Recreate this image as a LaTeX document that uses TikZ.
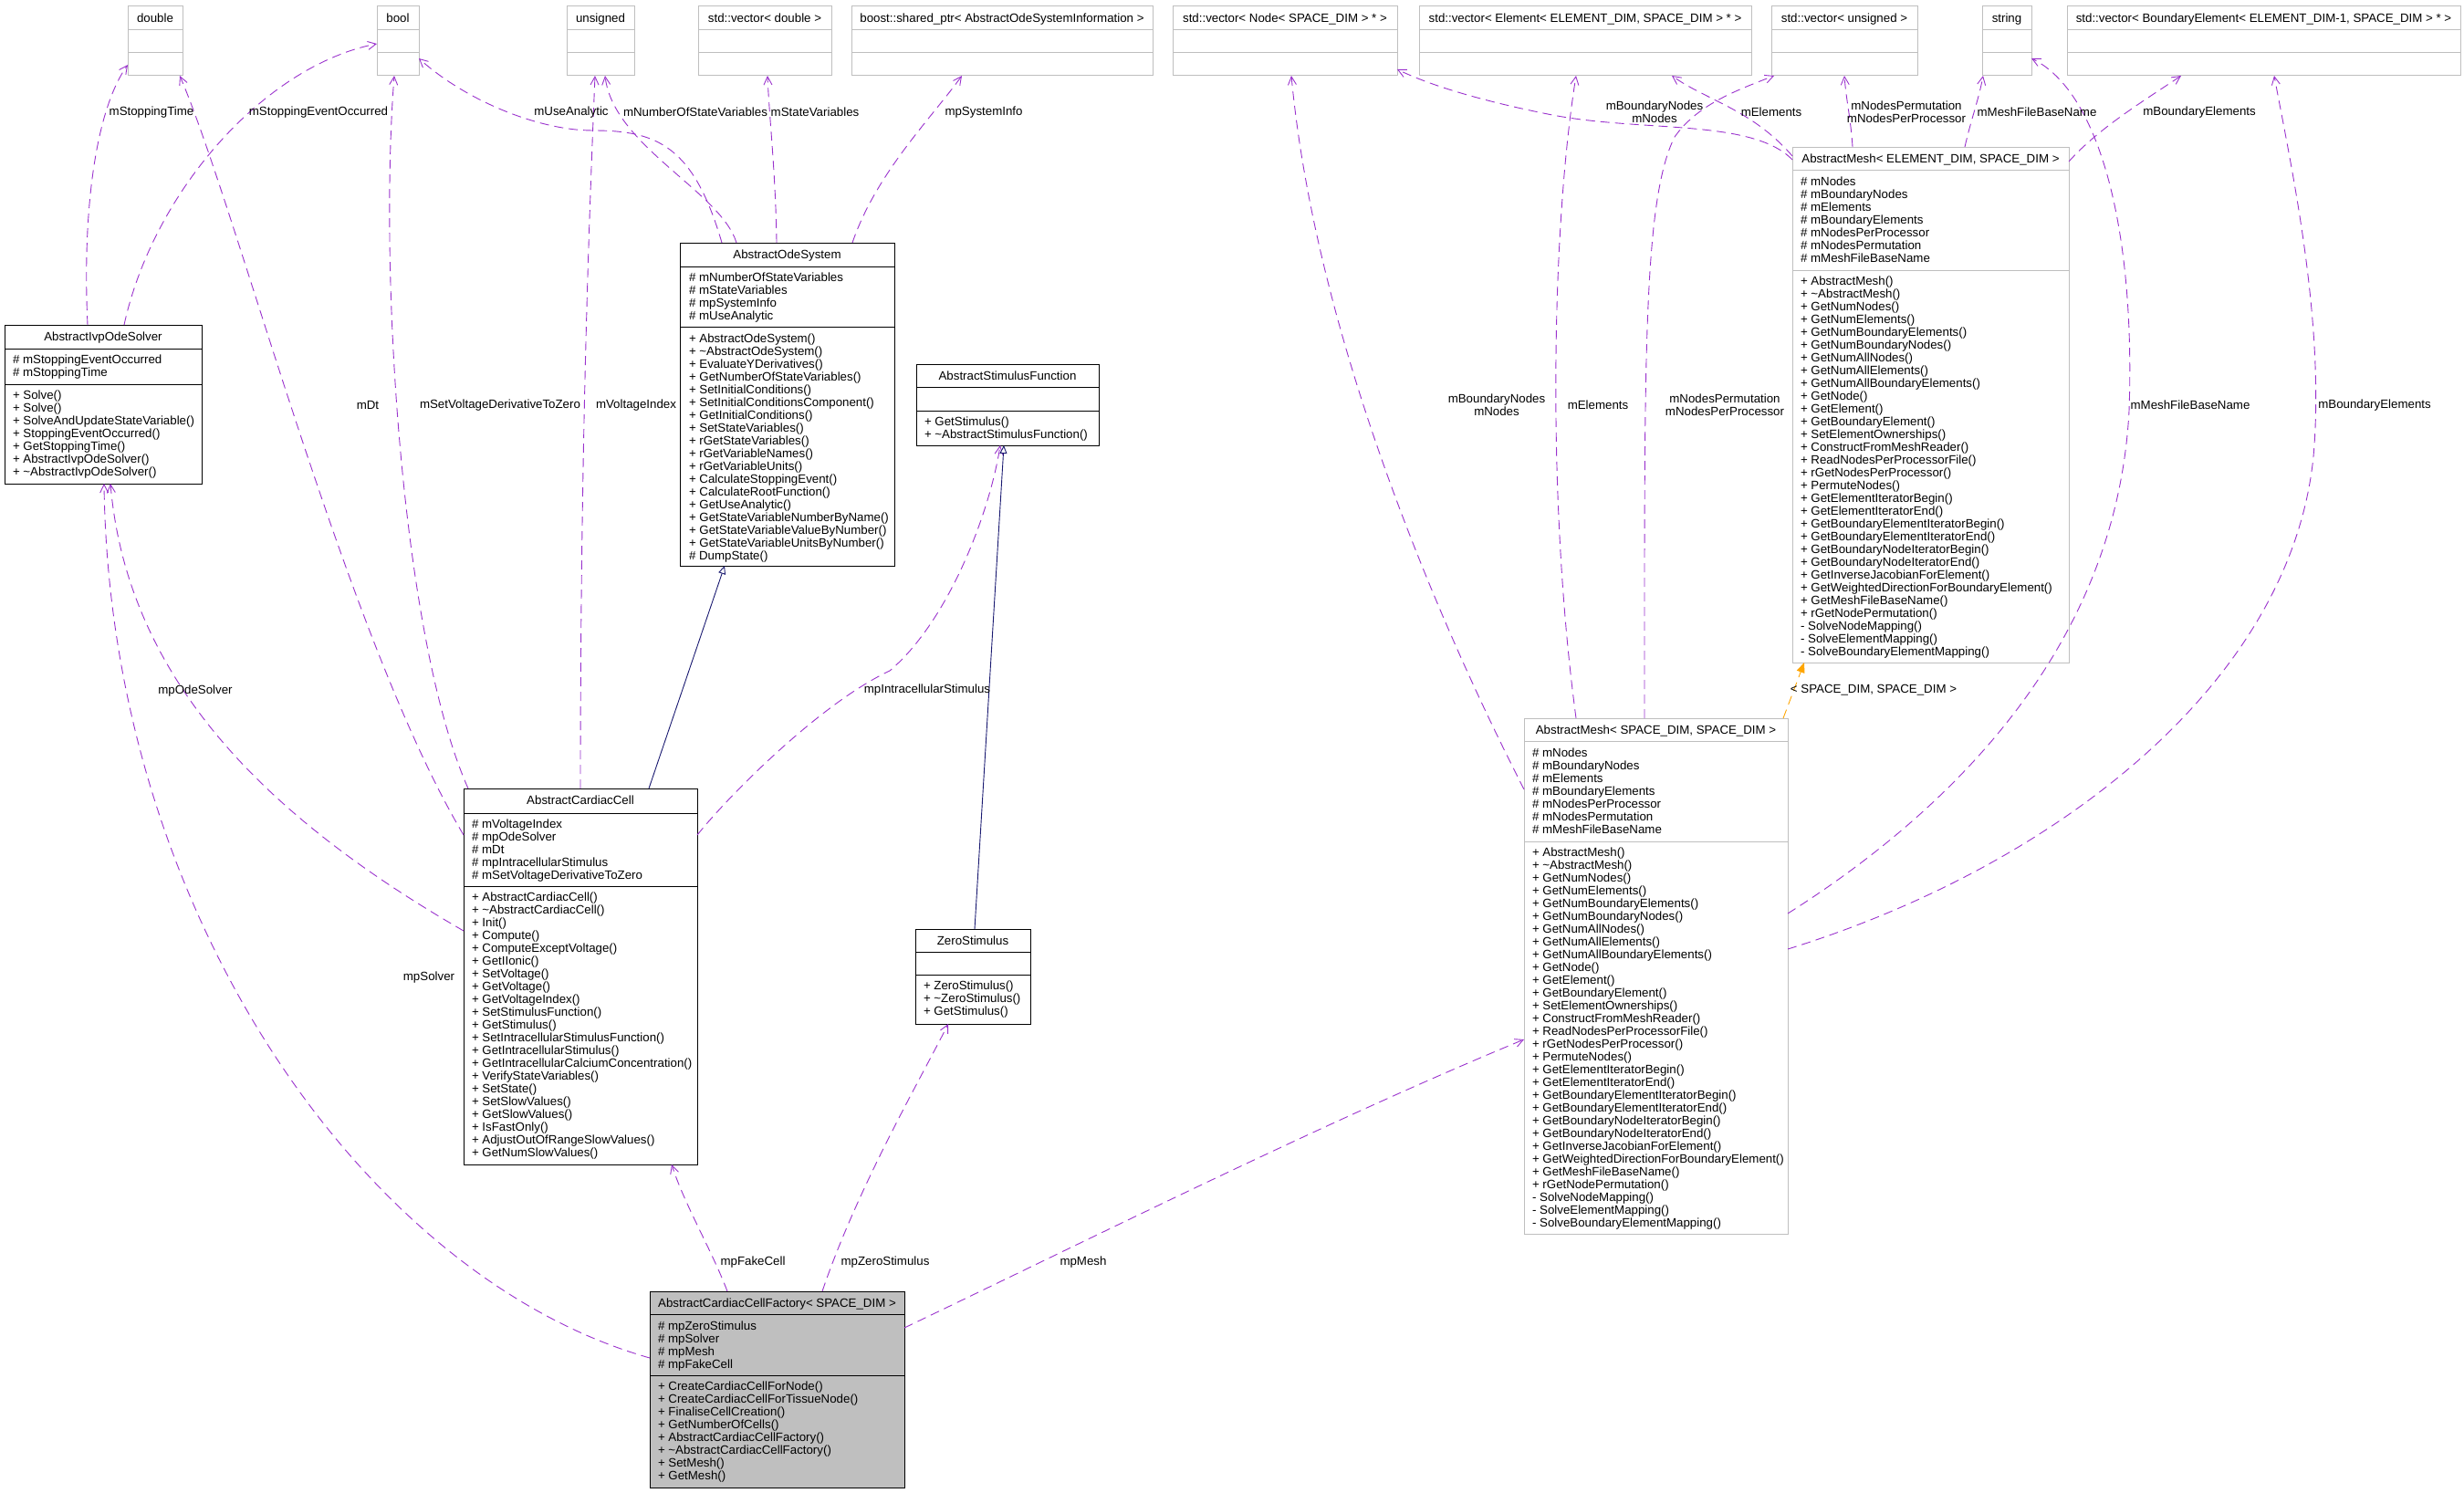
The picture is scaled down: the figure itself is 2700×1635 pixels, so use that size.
\documentclass[tikz,border=0pt]{standalone}
\usepackage{fontspec}
\setmainfont{Liberation Sans}
\usetikzlibrary{arrows.meta,calc}
\definecolor{depc}{HTML}{9A32CD}
\definecolor{grey75}{HTML}{BFBFBF}
\definecolor{inhc}{HTML}{191970}
\definecolor{tmplc}{HTML}{FFA500}
\tikzset{
  txt/.style={font=\fontsize{13.3}{14}\selectfont, inner sep=0pt, outer sep=0pt},
  lbl/.style={txt, align=center},
  blk/.style={draw=black, line width=1pt, outer sep=0pt, inner sep=0pt},
  gry/.style={draw=grey75, line width=1pt, outer sep=0pt, inner sep=0pt},
  fac/.style={draw=black, fill=grey75, line width=1pt, outer sep=0pt, inner sep=0pt},
  dep/.style={draw=depc, line width=0.9pt, dash pattern=on 10pt off 6pt, -{Straight Barb[length=9pt,width=9pt]}},
  inh/.style={draw=inhc, line width=0.9pt, -{Triangle[open,length=9pt,width=8pt,fill=white]}},
  tmpl/.style={draw=tmplc, line width=0.9pt, dash pattern=on 10pt off 6pt, -{Triangle[length=11pt,width=9pt]}}
}
% #1 name #2 style #3 x #4 y #5 w #6 h #7 header h #8 header+attrs h #9 title
\newcommand{\umlbox}[9]{%
  \node[#2, minimum width=#5pt, minimum height=#6pt, anchor=north west] (#1) at (#3,#4) {};
  \draw[#2] ([yshift=-#7pt]#1.north west) -- ([yshift=-#7pt]#1.north east);
  \draw[#2] ([yshift=-#8pt]#1.north west) -- ([yshift=-#8pt]#1.north east);
  \node[txt, anchor=base] (#1-title) at ([yshift=-17.5pt]#1.north) {#9};
}
% #1 name prefix #2 x #3 first baseline y #4 list
\newcommand{\members}[4]{%
  \foreach \mem [count=\i] in {#4} {\node[txt, anchor=base west] (#1-\i) at (#2,{#3+14*(\i-1)}) {\mem};}
}
\begin{document}
\begin{tikzpicture}[x=1pt,y=-1pt]
\useasboundingbox (0,0) rectangle (2700,1635);

% ---- top row (value types) ----
\umlbox{double}{gry}{140}{7}{60}{76}{25.5}{51}{double}
\umlbox{bool}{gry}{413}{7}{46}{76}{25.5}{51}{bool}
\umlbox{unsigned}{gry}{621}{7}{74}{76}{25.5}{51}{unsigned}
\umlbox{vecdouble}{gry}{765}{7}{146}{76}{25.5}{51}{std::vector< double >}
\umlbox{sysinfo}{gry}{933}{7}{330}{76}{25.5}{51}{boost::shared\_ptr< AbstractOdeSystemInformation >}
\umlbox{vecnode}{gry}{1285}{7}{246}{76}{25.5}{51}{std::vector< Node< SPACE\_DIM > * >}
\umlbox{vecelem}{gry}{1555}{7}{364}{76}{25.5}{51}{std::vector< Element< ELEMENT\_DIM, SPACE\_DIM > * >}
\umlbox{vecuns}{gry}{1941}{7}{160}{76}{25.5}{51}{std::vector< unsigned >}
\umlbox{string}{gry}{2172}{7}{54}{76}{25.5}{51}{string}
\umlbox{vecbnd}{gry}{2265}{7}{431}{76}{25.5}{51}{std::vector< BoundaryElement< ELEMENT\_DIM-1, SPACE\_DIM > * >}

% ---- AbstractIvpOdeSolver ----
\umlbox{solver}{blk}{5}{356}{216}{174}{26}{65}{AbstractIvpOdeSolver}
\members{solver-a}{14}{398.5}{\# mStoppingEventOccurred, \# mStoppingTime}
\members{solver-m}{14}{437}{+ Solve(), + Solve(), + SolveAndUpdateStateVariable(), + StoppingEventOccurred(), + GetStoppingTime(), + AbstractIvpOdeSolver(), + \textasciitilde AbstractIvpOdeSolver()}

% ---- AbstractOdeSystem ----
\umlbox{odesys}{blk}{745}{266}{235}{354}{26}{92}{AbstractOdeSystem}
\members{odesys-a}{755}{308}{\# mNumberOfStateVariables, \# mStateVariables, \# mpSystemInfo, \# mUseAnalytic}
\members{odesys-m}{755}{375}{+ AbstractOdeSystem(), + \textasciitilde AbstractOdeSystem(), + EvaluateYDerivatives(), + GetNumberOfStateVariables(), + SetInitialConditions(), + SetInitialConditionsComponent(), + GetInitialConditions(), + SetStateVariables(), + rGetStateVariables(), + rGetVariableNames(), + rGetVariableUnits(), + CalculateStoppingEvent(), + CalculateRootFunction(), + GetUseAnalytic(), + GetStateVariableNumberByName(), + GetStateVariableValueByNumber(), + GetStateVariableUnitsByNumber(), \# DumpState()}

% ---- AbstractStimulusFunction ----
\umlbox{stimfn}{blk}{1004}{399}{200}{89}{25}{51}{AbstractStimulusFunction}
\members{stimfn-m}{1013}{466}{+ GetStimulus(), + \textasciitilde AbstractStimulusFunction()}

% ---- AbstractCardiacCell ----
\umlbox{cell}{blk}{508}{864}{256}{412}{27}{107}{AbstractCardiacCell}
\members{cell-a}{517}{907}{\# mVoltageIndex, \# mpOdeSolver, \# mDt, \# mpIntracellularStimulus, \# mSetVoltageDerivativeToZero}
\members{cell-m}{517}{987.5}{+ AbstractCardiacCell(), + \textasciitilde AbstractCardiacCell(), + Init(), + Compute(), + ComputeExceptVoltage(), + GetIIonic(), + SetVoltage(), + GetVoltage(), + GetVoltageIndex(), + SetStimulusFunction(), + GetStimulus(), + SetIntracellularStimulusFunction(), + GetIntracellularStimulus(), + GetIntracellularCalciumConcentration(), + VerifyStateVariables(), + SetState(), + SetSlowValues(), + GetSlowValues(), + IsFastOnly(), + AdjustOutOfRangeSlowValues(), + GetNumSlowValues()}

% ---- ZeroStimulus ----
\umlbox{zero}{blk}{1003}{1018}{126}{104}{25}{50}{ZeroStimulus}
\members{zero-m}{1012}{1084}{+ ZeroStimulus(), + \textasciitilde ZeroStimulus(), + GetStimulus()}

% ---- AbstractCardiacCellFactory ----
\umlbox{factory}{fac}{712}{1415}{279}{215}{25}{92}{AbstractCardiacCellFactory< SPACE\_DIM >}
\members{factory-a}{721}{1457}{\# mpZeroStimulus, \# mpSolver, \# mpMesh, \# mpFakeCell}
\members{factory-m}{721}{1523}{+ CreateCardiacCellForNode(), + CreateCardiacCellForTissueNode(), + FinaliseCellCreation(), + GetNumberOfCells(), + AbstractCardiacCellFactory(), + \textasciitilde AbstractCardiacCellFactory(), + SetMesh(), + GetMesh()}

% ---- AbstractMesh< SPACE_DIM, SPACE_DIM > ----
\umlbox{meshSS}{gry}{1670}{787}{289}{565}{25}{135}{AbstractMesh< SPACE\_DIM, SPACE\_DIM >}
\members{meshSS-a}{1679}{829}{\# mNodes, \# mBoundaryNodes, \# mElements, \# mBoundaryElements, \# mNodesPerProcessor, \# mNodesPermutation, \# mMeshFileBaseName}
\members{meshSS-m}{1679}{938.5}{+ AbstractMesh(), + \textasciitilde AbstractMesh(), + GetNumNodes(), + GetNumElements(), + GetNumBoundaryElements(), + GetNumBoundaryNodes(), + GetNumAllNodes(), + GetNumAllElements(), + GetNumAllBoundaryElements(), + GetNode(), + GetElement(), + GetBoundaryElement(), + SetElementOwnerships(), + ConstructFromMeshReader(), + ReadNodesPerProcessorFile(), + rGetNodesPerProcessor(), + PermuteNodes(), + GetElementIteratorBegin(), + GetElementIteratorEnd(), + GetBoundaryElementIteratorBegin(), + GetBoundaryElementIteratorEnd(), + GetBoundaryNodeIteratorBegin(), + GetBoundaryNodeIteratorEnd(), + GetInverseJacobianForElement(), + GetWeightedDirectionForBoundaryElement(), + GetMeshFileBaseName(), + rGetNodePermutation(), - SolveNodeMapping(), - SolveElementMapping(), - SolveBoundaryElementMapping()}

% ---- AbstractMesh< ELEMENT_DIM, SPACE_DIM > ----
\umlbox{meshES}{gry}{1964}{161}{303}{565}{25}{135}{AbstractMesh< ELEMENT\_DIM, SPACE\_DIM >}
\members{meshES-a}{1973}{203}{\# mNodes, \# mBoundaryNodes, \# mElements, \# mBoundaryElements, \# mNodesPerProcessor, \# mNodesPermutation, \# mMeshFileBaseName}
\members{meshES-m}{1973}{312.5}{+ AbstractMesh(), + \textasciitilde AbstractMesh(), + GetNumNodes(), + GetNumElements(), + GetNumBoundaryElements(), + GetNumBoundaryNodes(), + GetNumAllNodes(), + GetNumAllElements(), + GetNumAllBoundaryElements(), + GetNode(), + GetElement(), + GetBoundaryElement(), + SetElementOwnerships(), + ConstructFromMeshReader(), + ReadNodesPerProcessorFile(), + rGetNodesPerProcessor(), + PermuteNodes(), + GetElementIteratorBegin(), + GetElementIteratorEnd(), + GetBoundaryElementIteratorBegin(), + GetBoundaryElementIteratorEnd(), + GetBoundaryNodeIteratorBegin(), + GetBoundaryNodeIteratorEnd(), + GetInverseJacobianForElement(), + GetWeightedDirectionForBoundaryElement(), + GetMeshFileBaseName(), + rGetNodePermutation(), - SolveNodeMapping(), - SolveElementMapping(), - SolveBoundaryElementMapping()}

% ---- connectors ----
\draw[dep] ($(solver.north west)+(91,0)$) .. controls (90,230) and (105,120) .. ($(double.north west)+(0,64)$);
\draw[dep] ($(solver.north west)+(131,0)$) .. controls (168,210) and (290,72) .. ($(bool.north west)+(0,41)$);
\draw[dep] ($(cell.north west)+(0,51)$) .. controls (380,700) and (260,230) .. ($(double.north west)+(57,76)$);
\draw[dep] ($(cell.north west)+(5,0)$) .. controls (440,700) and (415,300) .. ($(bool.north west)+(19,76)$);
\draw[dep] ($(cell.north west)+(128,0)$) .. controls (636,500) and (645,250) .. ($(unsigned.north west)+(31,76)$);
\draw[dep] ($(odesys.north west)+(46,0)$) .. controls (760,160) and (720,143) .. (650,143) .. controls (590,143) and (510,110) .. ($(bool.north west)+(46,57)$);
\draw[dep] ($(odesys.north west)+(62,0)$) .. controls (790,210) and (672,160) .. ($(unsigned.north west)+(42,76)$);
\draw[dep] ($(odesys.north west)+(106,0)$) .. controls (850,190) and (843,130) .. ($(vecdouble.north west)+(76,76)$);
\draw[dep] ($(odesys.north west)+(189,0)$) .. controls (960,190) and (1020,130) .. ($(sysinfo.north west)+(121,76)$);
\draw[inh] ($(cell.north west)+(203,0)$) -- ($(odesys.north west)+(49,354)$);
\draw[dep] ($(cell.north west)+(256,51)$) .. controls (800,870) and (900,770) .. (975,735) .. controls (1040,680) and (1085,560) .. ($(stimfn.north west)+(92,89)$);
\draw[inh] ($(zero.north west)+(65,0)$) -- ($(stimfn.north west)+(96,89)$);
\draw[dep] ($(cell.north west)+(0,156)$) .. controls (300,900) and (140,750) .. ($(solver.north west)+(116,174)$);
\draw[dep] ($(factory.north west)+(0,73)$) .. controls (400,1400) and (120,1000) .. ($(solver.north west)+(109,174)$);
\draw[dep] ($(factory.north west)+(85,0)$) .. controls (780,1370) and (750,1320) .. ($(cell.north west)+(228,412)$);
\draw[dep] ($(factory.north west)+(189,0)$) .. controls (940,1300) and (1010,1180) .. ($(zero.north west)+(36,104)$);
\draw[dep] ($(factory.north west)+(279,40)$) .. controls (1200,1355) and (1450,1230) .. ($(meshSS.north west)+(0,352)$);
\draw[dep] ($(meshSS.north west)+(0,78)$) .. controls (1560,650) and (1440,350) .. ($(vecnode.north west)+(130,76)$);
\draw[dep] ($(meshSS.north west)+(57,0)$) .. controls (1695,550) and (1700,250) .. ($(vecelem.north west)+(172,76)$);
\draw[dep] ($(meshSS.north west)+(132,0)$) .. controls (1802,400) and (1800,220) .. (1835,150) .. controls (1860,115) and (1900,100) .. ($(vecuns.north west)+(3,76)$);
\draw[dep] ($(meshSS.north west)+(289,214)$) .. controls (2150,880) and (2320,700) .. (2333,450) .. controls (2340,250) and (2300,100) .. ($(string.north west)+(54,57)$);
\draw[dep] ($(meshSS.north west)+(289,253)$) .. controls (2250,950) and (2510,750) .. (2535,500) .. controls (2548,350) and (2510,180) .. ($(vecbnd.north west)+(227,76)$);
\draw[tmpl] ($(meshSS.north west)+(284,0)$) -- ($(meshES.north west)+(13,565)$);
\draw[dep] ($(meshES.north west)+(0,14)$) .. controls (1920,130) and (1800,145) .. (1701,126) .. controls (1630,112) and (1570,95) .. ($(vecnode.north west)+(246,69)$);
\draw[dep] ($(meshES.north west)+(0,10)$) .. controls (1920,120) and (1870,110) .. ($(vecelem.north west)+(277,76)$);
\draw[dep] ($(meshES.north west)+(66,0)$) .. controls (2028,130) and (2023,110) .. ($(vecuns.north west)+(80,76)$);
\draw[dep] ($(meshES.north west)+(189,0)$) .. controls (2160,130) and (2168,110) .. ($(string.north west)+(1,76)$);
\draw[dep] ($(meshES.north west)+(303,16)$) .. controls (2300,140) and (2350,110) .. ($(vecbnd.north west)+(125,76)$);

% ---- connector labels ----
\node[lbl] (l1) at (166,123) {mStoppingTime};
\node[lbl] (l2) at (349,123) {mStoppingEventOccurred};
\node[lbl] (l3) at (626,123) {mUseAnalytic};
\node[lbl] (l4) at (762,123) {mNumberOfStateVariables};
\node[lbl] (l5) at (893,123) {mStateVariables};
\node[lbl] (l6) at (1078,123) {mpSystemInfo};
\node[lbl] (l7) at (1813,123) {mBoundaryNodes\\mNodes};
\node[lbl] (l8) at (1941,123) {mElements};
\node[lbl] (l9) at (2089,123) {mNodesPermutation\\mNodesPerProcessor};
\node[lbl] (l10) at (2232,123) {mMeshFileBaseName};
\node[lbl] (l11) at (2410,123) {mBoundaryElements};
\node[lbl] (l12) at (403,444) {mDt};
\node[lbl] (l13) at (548,444) {mSetVoltageDerivativeToZero};
\node[lbl] (l14) at (697,444) {mVoltageIndex};
\node[lbl] (l15) at (1640,444) {mBoundaryNodes\\mNodes};
\node[lbl] (l16) at (1751,444) {mElements};
\node[lbl] (l17) at (1890,444) {mNodesPermutation\\mNodesPerProcessor};
\node[lbl] (l18) at (2400,444) {mMeshFileBaseName};
\node[lbl] (l19) at (2602,444) {mBoundaryElements};
\node[lbl] (l20) at (214,757) {mpOdeSolver};
\node[lbl] (l21) at (1016,756) {mpIntracellularStimulus};
\node[lbl] (l22) at (2053,756) {< SPACE\_DIM, SPACE\_DIM >};
\node[lbl] (l23) at (470,1071) {mpSolver};
\node[lbl] (l24) at (825,1383) {mpFakeCell};
\node[lbl] (l25) at (970,1383) {mpZeroStimulus};
\node[lbl] (l26) at (1187,1383) {mpMesh};
\end{tikzpicture}
\end{document}
